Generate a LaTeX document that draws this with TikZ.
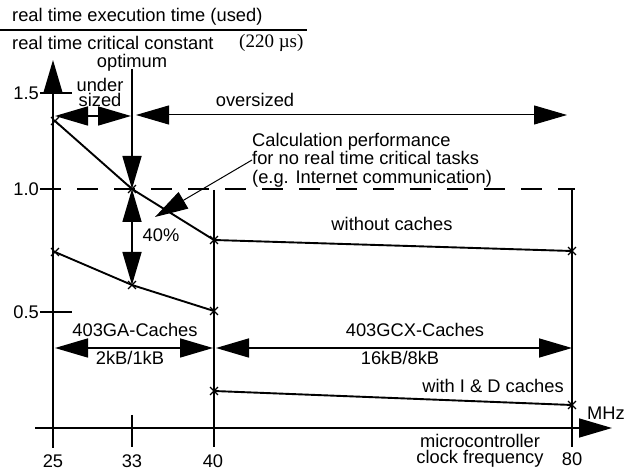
\documentclass[tikz,border=0pt]{standalone}
\usepackage{fontspec}
\setmainfont{Liberation Sans}
\newfontfamily\timesfont{Liberation Serif}
\usetikzlibrary{arrows.meta,shapes.misc}

\begin{document}
\begin{tikzpicture}[x=1pt,y=-1pt,
  every node/.style={font=\fontsize{18.3}{18.5}\selectfont,inner sep=0pt},
  big/.style={-{Triangle[length=33pt,width=19pt]}},
  bigboth/.style={{Triangle[length=33pt,width=19pt]}-{Triangle[length=33pt,width=19pt]}},
  xpt/.style={cross out,draw,minimum size=6.5pt,line width=1.4pt},
  curve/.style={line width=1.9pt},
  axis/.style={line width=1.6pt}]

\useasboundingbox (0,0) rectangle (627,470);

% fraction on top
\node[anchor=west] (num) at (12,17) {real time execution time (used)};
\draw[line width=1.4pt] (0,30)--(307,30);
\node[anchor=west] (den) at (12,43) {real time critical constant};
\node[anchor=west,font=\timesfont\fontsize{19}{19}\selectfont] (cst) at (239,43) {(220 µs)};

% axes
\coordinate (ya) at (53,448);
\coordinate (yb) at (53,60);
\coordinate (xa) at (35,428);
\coordinate (xb) at (612,428);
\draw[axis,big] (ya)--(yb);
\draw[axis,big] (xa)--(xb);

\draw[axis] (40,93)--(72,93);
\draw[axis] (40,312)--(72,312);
\node[anchor=east] (l15) at (39,93) {1.5};
\node[anchor=east] (l10) at (39,189) {1.0};
\node[anchor=east] (l05) at (39,312) {0.5};
\draw[axis,dash pattern=on 21pt off 16pt] (40,189)--(575,189);

\draw[axis] (132,415)--(132,447);
\draw[axis] (214,190)--(214,447);
\draw[axis] (572,190)--(572,447);

\node (t25) at (53,461) {25};
\node (t33) at (132,461) {33};
\node (t40) at (213,461) {40};
\node (t80) at (572,459) {80};
\node (mhz) at (606,413) {MHz};
\node[align=center,font=\fontsize{18.3}{16}\selectfont] (mcf) at (480,451)
  {microcontroller\\clock frequency};

% measured points
\node[xpt] (wo25) at (55,121) {};
\node[xpt] (wo33) at (132,189) {};
\node[xpt] (wo40) at (214,240) {};
\node[xpt] (wo80) at (572,251) {};
\node[xpt] (ga25) at (55,252) {};
\node[xpt] (ga33) at (132,285) {};
\node[xpt] (ga40) at (214,311) {};
\node[xpt] (gcx40) at (214,391) {};
\node[xpt] (gcx80) at (572,405) {};

\draw[curve] (wo25.center)--(wo33.center)--(wo40.center)--(wo80.center);
\draw[curve] (ga25.center)--(ga33.center)--(ga40.center);
\draw[curve] (gcx40.center)--(gcx80.center);

\node (woc) at (392,224) {without caches};
\node (idc) at (493,386) {with I \& D caches};

% optimum / under sized / oversized
\node (opt) at (132,63) {optimum};
\coordinate (opttop) at (132,69);
\draw[axis,big] (opttop)--(wo33.center);
\draw[axis,bigboth] (wo33.center)--(ga33.center);
\node (pct) at (161,235) {40\%};

\coordinate (us1) at (55,116);
\coordinate (us2) at (131,116);
\coordinate (os1) at (136,115);
\coordinate (os2) at (567,115);
\draw[axis,bigboth] (us1)--(us2);
\draw[line width=1pt,bigboth] (os1)--(os2);
\node[align=center,font=\fontsize{18.3}{15}\selectfont] (us) at (100,92) {under\\sized};
\node (os) at (255,100) {oversized};

% calculation performance remark
\node[anchor=west,align=left] (calc) at (252,160)
  {Calculation performance\\for no real time critical tasks\\(e.g. Internet communication)};
\coordinate (calctip) at (155,217);
\draw[line width=1pt,big] (calc.west)--(calctip);

% cache ranges
\coordinate (ga1) at (55,348);
\coordinate (ga2) at (213,348);
\coordinate (gcx1) at (216,348);
\coordinate (gcx2) at (572,348);
\draw[axis,bigboth] (ga1)--(ga2);
\draw[axis,bigboth] (gcx1)--(gcx2);
\node (gat) at (135,330) {403GA-Caches};
\node (gas) at (130,358) {2kB/1kB};
\node (gcxt) at (415,330) {403GCX-Caches};
\node (gcxs) at (400,358) {16kB/8kB};

\end{tikzpicture}
\end{document}
